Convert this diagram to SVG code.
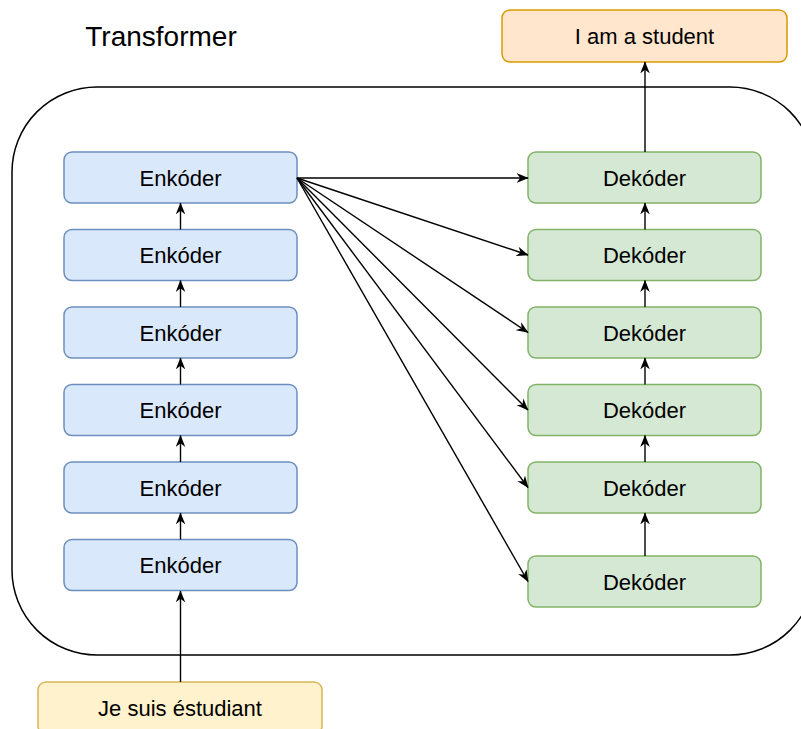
<svg xmlns="http://www.w3.org/2000/svg" width="801" height="729" viewBox="0 0 801 729">
  <style>
    .lbl { font-family: "Liberation Sans", Arial, sans-serif; font-size: 22px; fill: #000; text-anchor: middle; }
    .enc { fill: #dae8fc; stroke: #6c8ebf; stroke-width: 1.5; }
    .dec { fill: #d5e8d4; stroke: #82b366; stroke-width: 1.5; }
    .out { fill: #ffe6cc; stroke: #d79b00; stroke-width: 1.5; }
    .inp { fill: #fff2cc; stroke: #d6b656; stroke-width: 1.5; }
    .edge { fill: none; stroke: #000; stroke-width: 1.4; marker-end: url(#arrow); }
  </style>
  <defs>
    <marker id="arrow" viewBox="0 0 10 8" refX="9.5" refY="4" markerWidth="12" markerHeight="10" markerUnits="userSpaceOnUse" orient="auto">
      <path d="M0,0 L10,4 L0,8 L3,4 Z" fill="#000"/>
    </marker>
  </defs>
  <rect width="801" height="729" fill="#fff"/>

  <!-- container -->
  <g id="transformer">
    <rect x="12" y="87" width="803" height="568" rx="85" ry="85" fill="none" stroke="#000" stroke-width="1.5"/>
    <text x="161" y="46" style="font-family: 'Liberation Sans', Arial, sans-serif; font-size: 28px; text-anchor: middle;">Transformer</text>
  </g>

  <!-- encoder stack -->
  <g id="enc1"><rect class="enc" x="64" y="152" width="233" height="51" rx="8"/><text class="lbl" x="180.5" y="185.5">Enkóder</text></g>
  <g id="enc2"><rect class="enc" x="64" y="229.5" width="233" height="51" rx="8"/><text class="lbl" x="180.5" y="263">Enkóder</text></g>
  <g id="enc3"><rect class="enc" x="64" y="307" width="233" height="51" rx="8"/><text class="lbl" x="180.5" y="340.5">Enkóder</text></g>
  <g id="enc4"><rect class="enc" x="64" y="384.5" width="233" height="51" rx="8"/><text class="lbl" x="180.5" y="418">Enkóder</text></g>
  <g id="enc5"><rect class="enc" x="64" y="462" width="233" height="51" rx="8"/><text class="lbl" x="180.5" y="495.5">Enkóder</text></g>
  <g id="enc6"><rect class="enc" x="64" y="539.5" width="233" height="51" rx="8"/><text class="lbl" x="180.5" y="573">Enkóder</text></g>

  <!-- decoder stack -->
  <g id="dec1"><rect class="dec" x="528" y="152" width="233" height="51" rx="8"/><text class="lbl" x="644.5" y="185.5">Dekóder</text></g>
  <g id="dec2"><rect class="dec" x="528" y="229.5" width="233" height="51" rx="8"/><text class="lbl" x="644.5" y="263">Dekóder</text></g>
  <g id="dec3"><rect class="dec" x="528" y="307" width="233" height="51" rx="8"/><text class="lbl" x="644.5" y="340.5">Dekóder</text></g>
  <g id="dec4"><rect class="dec" x="528" y="384.5" width="233" height="51" rx="8"/><text class="lbl" x="644.5" y="418">Dekóder</text></g>
  <g id="dec5"><rect class="dec" x="528" y="462" width="233" height="51" rx="8"/><text class="lbl" x="644.5" y="495.5">Dekóder</text></g>
  <g id="dec6"><rect class="dec" x="528" y="556" width="233" height="51" rx="8"/><text class="lbl" x="644.5" y="589.5">Dekóder</text></g>

  <!-- input / output -->
  <g id="output"><rect class="out" x="502" y="10" width="285" height="52" rx="8"/><text class="lbl" x="644.5" y="44">I am a student</text></g>
  <g id="input"><rect class="inp" x="38" y="682" width="284" height="52" rx="8"/><text class="lbl" x="180" y="716">Je suis éstudiant</text></g>

  <!-- connectors -->
  <g id="connectors">
    <line class="edge" x1="180.5" y1="682" x2="180.5" y2="591"/>
    <line class="edge" x1="180.5" y1="539.5" x2="180.5" y2="513"/>
    <line class="edge" x1="180.5" y1="462" x2="180.5" y2="435.5"/>
    <line class="edge" x1="180.5" y1="384.5" x2="180.5" y2="358"/>
    <line class="edge" x1="180.5" y1="307" x2="180.5" y2="280.5"/>
    <line class="edge" x1="180.5" y1="229.5" x2="180.5" y2="203"/>

    <line class="edge" x1="645" y1="556" x2="645" y2="513"/>
    <line class="edge" x1="645" y1="462" x2="645" y2="435.5"/>
    <line class="edge" x1="645" y1="384.5" x2="645" y2="358"/>
    <line class="edge" x1="645" y1="307" x2="645" y2="280.5"/>
    <line class="edge" x1="645" y1="229.5" x2="645" y2="203"/>
    <line class="edge" x1="645" y1="152" x2="645" y2="62"/>

    <line class="edge" x1="297" y1="178" x2="528" y2="178"/>
    <line class="edge" x1="297" y1="178" x2="528" y2="255"/>
    <line class="edge" x1="297" y1="178" x2="528" y2="332.5"/>
    <line class="edge" x1="297" y1="178" x2="528" y2="410"/>
    <line class="edge" x1="297" y1="178" x2="528" y2="487.5"/>
    <line class="edge" x1="297" y1="178" x2="528" y2="581.5"/>
  </g>
</svg>
